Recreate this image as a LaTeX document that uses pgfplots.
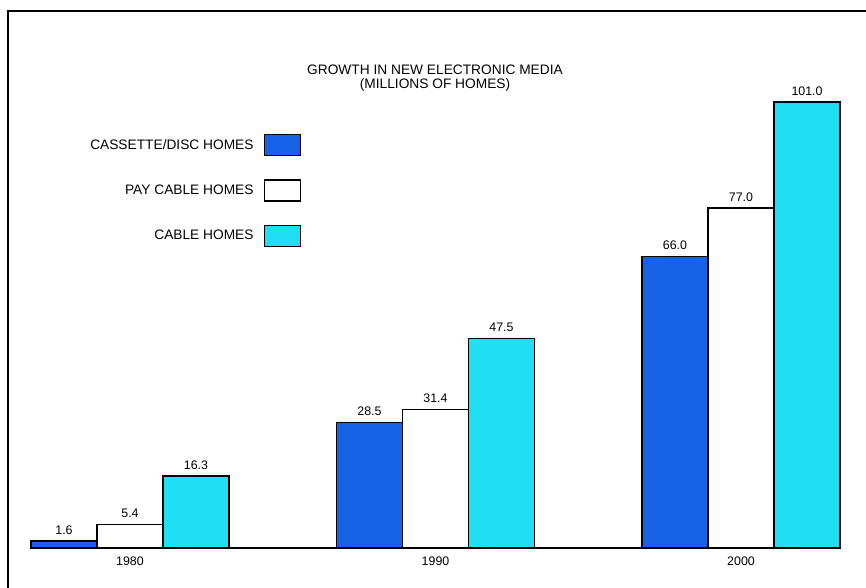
\documentclass[border=0pt]{standalone}
\usepackage{fontspec}
\setmainfont{Liberation Sans}
\usepackage{pgfplots}
\pgfplotsset{compat=1.18}
\definecolor{barblue}{RGB}{22,98,230}
\definecolor{barcyan}{RGB}{30,224,242}
\pgfplotsset{swatch/.style={legend image code/.code={\draw[##1] (0pt,-7.875pt) rectangle (27pt,7.875pt);}}}
\begin{document}
\begin{tikzpicture}
\useasboundingbox (0,0) rectangle (649.5pt,-441pt);
\draw[line width=1.1pt] (6pt,-441pt) -- (6pt,-8.25pt) -- (649.5pt,-8.25pt);
\begin{axis}[
  at={(22.5pt,-411pt)}, anchor=south west,
  scale only axis, width=607.5pt, height=334.5pt,
  xmin=-0.3273, xmax=2.324, ymin=0, ymax=101,
  clip=false,
  axis x line*=bottom, axis y line=none,
  x axis line style={line width=1.5pt, -},
  xtick={0,1,2}, xticklabels={1980,1990,2000},
  major tick length=0pt,
  ytick=\empty,
  xticklabel style={font=\fontsize{9.3}{10}\selectfont, anchor=center, yshift=-9.75pt},
  /pgf/number format/assume math mode=true,
  ybar=0pt, bar width=49.5pt,
  every axis plot post/.append style={swatch},
  nodes near coords={\pgfmathprintnumber[fixed,fixed zerofill,precision=1]{\pgfplotspointmeta}},
  every node near coord/.append style={font=\fontsize{9.3}{10}\selectfont, anchor=base, yshift=5pt, inner sep=0pt},
  legend style={at={(0.3346,0.9283)}, anchor=north east, draw=none, fill=none, inner sep=0pt, row sep=17.25pt, column sep=7.5pt, nodes={inner sep=0pt}, font=\fontsize{10.3}{11}\selectfont},
  legend plot pos=right, legend cell align=right,
  title={GROWTH IN NEW ELECTRONIC MEDIA\\(MILLIONS OF HOMES)},
  title style={at={(0.5,1)}, anchor=center, yshift=12pt, align=center, font=\fontsize{10.3}{10.5}\selectfont},
]
\addplot[fill=barblue, draw=black, line width=0.9pt, swatch] coordinates {(0,1.6) (1,28.5) (2,66.0)};
\addplot[fill=white, draw=black, line width=0.9pt, swatch] coordinates {(0,5.4) (1,31.4) (2,77.0)};
\addplot[fill=barcyan, draw=black, line width=0.9pt, swatch] coordinates {(0,16.3) (1,47.5) (2,101.0)};
\legend{CASSETTE/DISC HOMES, PAY CABLE HOMES, CABLE HOMES}
\end{axis}
\end{tikzpicture}
\end{document}
